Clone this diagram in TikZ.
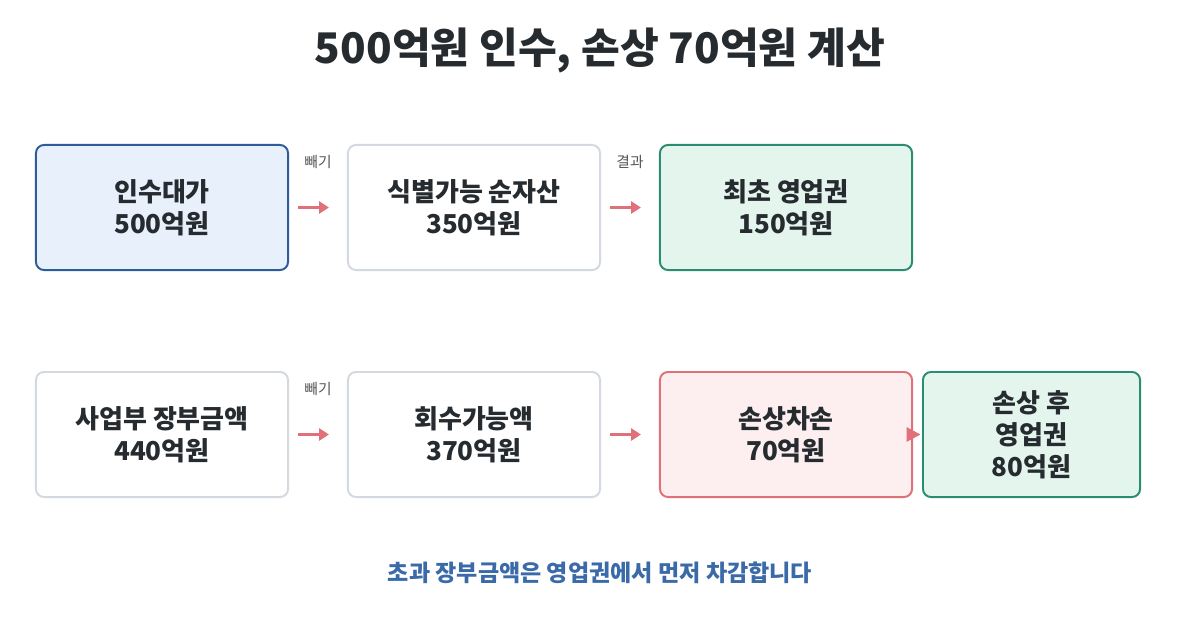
\documentclass[tikz,border=0pt]{standalone}
\usepackage{fontspec}
\setmainfont{Noto Sans CJK KR}
\usetikzlibrary{arrows.meta}
\definecolor{inkdark}{HTML}{262B30}
\definecolor{bluefill}{HTML}{E8F0FB}
\definecolor{blueline}{HTML}{2E5C9A}
\definecolor{grayline}{HTML}{D3D9DF}
\definecolor{greenfill}{HTML}{E4F5EE}
\definecolor{greenline}{HTML}{2A8C70}
\definecolor{redfill}{HTML}{FDEEF0}
\definecolor{redline}{HTML}{E0707A}
\definecolor{notecolor}{HTML}{3A6AA8}
\definecolor{labelgray}{HTML}{555555}

\begin{document}
\begin{tikzpicture}
            [x=0.025cm,y=-0.025cm,
                box/.style={draw,line width=1.4pt,rounded corners=0.2cm,minimum width=6.3cm,minimum height=3.125cm,align=center,text=inkdark,font=\fontsize{18.5}{22.7}\selectfont\bfseries},
                bluebox/.style={box,fill=bluefill,draw=blueline},
                graybox/.style={box,fill=white,draw=grayline},
                greenbox/.style={box,fill=greenfill,draw=greenline},
                redbox/.style={box,fill=redfill,draw=redline},
                flow/.style={-{Triangle[length=7pt,width=8.5pt]},line width=2pt,redline},
                tag/.style={font=\fontsize{10.5}{11}\selectfont,text=labelgray}]
            %fix the page size
            \useasboundingbox (0,0) rectangle (1200,630);
            \node (title) at (600,50) {\fontsize{30}{33}\selectfont\bfseries\color{inkdark}500억원 인수, 손상 70억원 계산};

            %first row: goodwill at acquisition
            \node[bluebox] (price) at (162,207.5) {인수대가\\500억원};
            \node[graybox] (net) at (474,207.5) {식별가능 순자산\\350억원};
            \node[greenbox] (goodwill) at (786,207.5) {최초 영업권\\150억원};

            %second row: impairment test
            \node[graybox] (carrying) at (162,434.5) {사업부 장부금액\\440억원};
            \node[graybox] (recover) at (474,434.5) {회수가능액\\370억원};
            \node[redbox] (loss) at (786,434.5) {손상차손\\70억원};
            \node[greenbox,minimum width=5.425cm] (after) at (1031.5,434.5) {손상 후\\영업권\\80억원};

            %draw the arrows
            \draw[flow,shorten <=0.225cm,shorten >=0.45cm] (price) -- (net) node[tag,midway,yshift=1.15cm] (minusA) {빼기};
            \draw[flow,shorten <=0.225cm,shorten >=0.45cm] (net) -- (goodwill) node[tag,midway,yshift=1.15cm] (result) {결과};
            \draw[flow,shorten <=0.225cm,shorten >=0.45cm] (carrying) -- (recover) node[tag,midway,yshift=1.15cm] (minusB) {빼기};
            \draw[flow,shorten <=0.225cm,shorten >=0.45cm] (recover) -- (loss);
            \draw[-{Triangle[length=10pt,width=10pt]},line width=2pt,redline,shorten >=1pt] (loss) -- (after);

            \node (note) at (600,573) {\fontsize{16.4}{18}\selectfont\bfseries\color{notecolor}초과 장부금액은 영업권에서 먼저 차감합니다};
        \end{tikzpicture}
\end{document}
